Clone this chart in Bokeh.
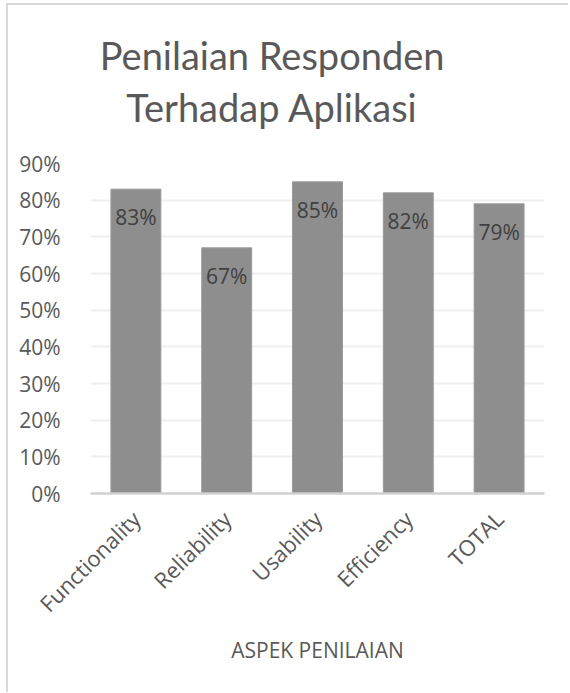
from bokeh.plotting import figure
from bokeh.models import ColumnDataSource, NumeralTickFormatter, FixedTicker, LabelSet
from bokeh.layouts import column
from bokeh.core.properties import value
from bokeh.embed import file_html
from bokeh.resources import INLINE
from math import pi

categories = ["Functionality", "Reliability", "Usability", "Efficiency", "TOTAL"]
values = [0.83, 0.67, 0.85, 0.82, 0.79]
labels = ["83%", "67%", "85%", "82%", "79%"]
y_ticks = [0.0, 0.1, 0.2, 0.3, 0.4, 0.5, 0.6, 0.7, 0.8, 0.9]
title_lines = ["Penilaian Responden", "Terhadap Aplikasi"]

FONT = "Open Sans"
TXT = "#595959"
W = 560
TH = 138

# ---- title strip (its own svg figure so the two centred lines are exact) ----
tf = figure(width=W, height=TH, x_range=(0, W), y_range=(0, TH),
            output_backend="svg", toolbar_location=None, tools="",
            min_border=0)
tf.axis.visible = False
tf.grid.visible = False
tf.outline_line_color = None
tf.background_fill_color = "white"
tf.border_fill_color = "white"
tsrc = ColumnDataSource(dict(x=[224, 224], y=[89, 37], text=title_lines))
tf.text(x="x", y="y", text="text", source=tsrc, text_align="center", text_baseline="middle",
        text_font=value("Lato"), text_font_size="38px", text_color=TXT)

# ---- chart ----
src = ColumnDataSource(dict(cat=categories, val=values, lab=labels))

p = figure(x_range=categories, y_range=(0, 0.9), width=W, height=687 - TH,
           output_backend="svg", toolbar_location=None, tools="",
           min_border_left=82, min_border_right=24, min_border_top=20, min_border_bottom=199)
p.title = None

p.vbar(x="cat", top="val", width=0.55, source=src, fill_color="#8e8e8e", line_color="#9a9a9a", line_width=1)

lbl = LabelSet(x="cat", y="val", text="lab", source=src, text_align="center", text_baseline="top",
               y_offset=-14, text_font=value(FONT), text_font_size="21px", text_color="#404040")
p.add_layout(lbl)

p.outline_line_color = None
p.background_fill_color = "white"
p.border_fill_color = "white"

p.xgrid.grid_line_color = None
p.ygrid.grid_line_color = "#efefef"
p.ygrid.grid_line_width = 2

p.yaxis.ticker = FixedTicker(ticks=y_ticks)
p.yaxis.formatter = NumeralTickFormatter(format="0%")
p.yaxis.axis_line_color = None
p.yaxis.major_tick_line_color = None
p.yaxis.minor_tick_line_color = None
p.yaxis.major_label_text_font = FONT
p.yaxis.major_label_text_font_size = "21px"
p.yaxis.major_label_text_color = TXT
p.yaxis.major_label_standoff = 24

p.xaxis.axis_line_color = "#d0d0d0"
p.xaxis.axis_line_width = 2.5
p.xaxis.major_tick_line_color = None
p.xaxis.minor_tick_line_color = None
p.xaxis.major_label_orientation = pi / 4
p.xaxis.major_label_text_font = FONT
p.xaxis.major_label_text_font_size = "22px"
p.xaxis.major_label_text_color = TXT
p.xaxis.major_label_standoff = 15
p.xaxis.axis_label = "ASPEK PENILAIAN"
p.xaxis.axis_label_text_font = FONT
p.xaxis.axis_label_text_font_size = "21px"
p.xaxis.axis_label_text_font_style = "normal"
p.xaxis.axis_label_text_color = TXT
p.xaxis.axis_label_standoff = 5

layout = column(tf, p, spacing=0,
                styles={"margin-left": "6px", "margin-top": "3px",
                        "border-left": "2px solid #d9d9d9", "border-top": "2px solid #d9d9d9"})

open("out.html", "w").write(file_html(layout, INLINE))
